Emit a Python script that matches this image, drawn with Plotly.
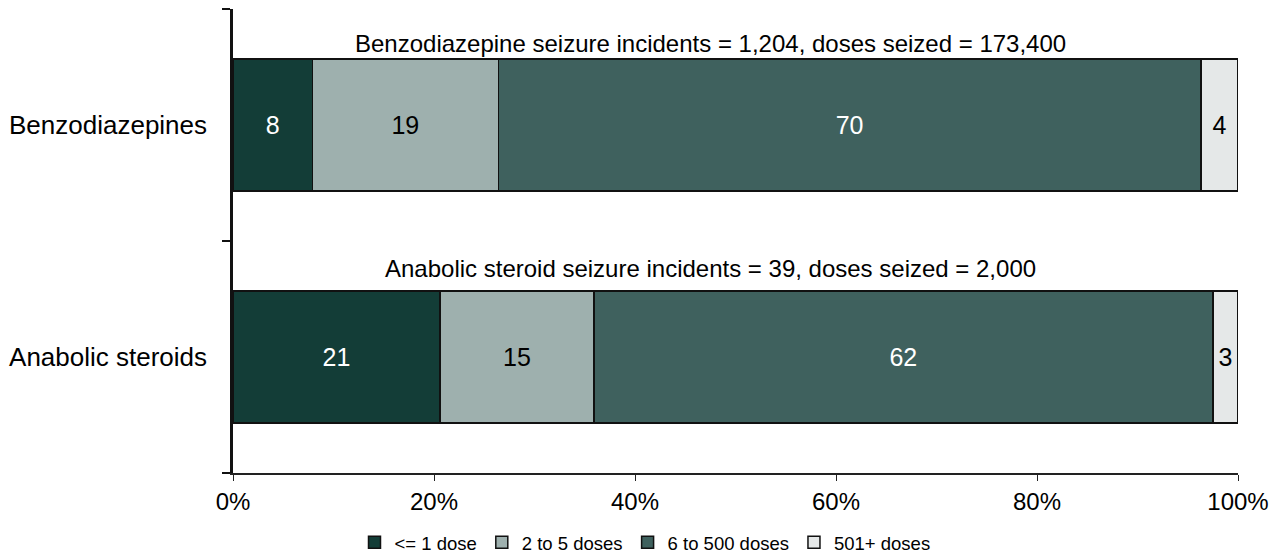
import plotly.graph_objects as go

# Share of seizure incidents by doses seized (%)
categories = ['Anabolic steroids', 'Benzodiazepines']
bands = ['<= 1 dose', '2 to 5 doses', '6 to 500 doses', '501+ doses']
shares = {
    '<= 1 dose':      [20.6, 7.9],
    '2 to 5 doses':   [15.3, 18.5],
    '6 to 500 doses': [61.6, 69.9],
    '501+ doses':     [2.5, 3.7],
}
# labels printed on the bars (rounded figures as published)
labels = {
    '<= 1 dose':      [21, 8],
    '2 to 5 doses':   [15, 19],
    '6 to 500 doses': [62, 70],
    '501+ doses':     [3, 4],
}
notes = [
    'Anabolic steroid seizure incidents = 39, doses seized = 2,000',
    'Benzodiazepine seizure incidents = 1,204, doses seized = 173,400',
]
x_ticks = [0, 20, 40, 60, 80, 100]

colors = ['#133d37', '#9eb0ae', '#3f615e', '#e5e8e8']
text_colors = ['white', 'black', 'white', 'black']
font = 'Liberation Sans, Arial, sans-serif'

fig = go.Figure()
for band, col, tcol in zip(bands, colors, text_colors):
    fig.add_trace(go.Bar(
        y=categories, x=shares[band], name=band, orientation='h',
        marker=dict(color=col, line=dict(color='#111111', width=1.5)),
        text=[str(v) for v in labels[band]],
        textposition='inside', insidetextanchor='middle',
        textfont=dict(color=tcol, size=25, family=font),
        constraintext='none',
    ))

# incident/dose totals above each bar
for i, note in enumerate(notes):
    fig.add_annotation(
        x=47.5, y=i + (0.38 if i == 0 else 0.35), xref='x', yref='y',
        text=note, showarrow=False,
        font=dict(size=24, color='black', family=font),
    )

# the page body adds an 8px margin, so the figure is shrunk to fit the window
fig.update_layout(
    barmode='stack',
    bargap=0.43,
    width=1274, height=548,
    margin=dict(l=225, r=44, t=1, b=83),
    plot_bgcolor='white', paper_bgcolor='white',
    font=dict(family=font, color='black', size=24),
    showlegend=True,
    legend=dict(
        orientation='h', x=0.5, xref='container', xanchor='center',
        y=0.024, yref='container', yanchor='middle',
        font=dict(size=18.5, family=font), traceorder='normal',
        itemwidth=30,
    ),
    uniformtext=dict(minsize=10, mode='show'),
)
fig.update_xaxes(
    range=[0, 100], tickvals=x_ticks,
    ticktext=[f'{v}%' for v in x_ticks],
    showgrid=False, zeroline=False,
    showline=True, linecolor='#222222', linewidth=1.5,
    ticks='outside', ticklen=6, tickcolor='#222222',
    tickfont=dict(size=24),
)
fig.update_yaxes(
    type='category', range=[-0.5, 1.5],
    tickson='boundaries', ticks='outside', ticklen=8, tickcolor='#111111',
    tickwidth=1.5,
    showline=True, linecolor='#111111', linewidth=2.5,
    showgrid=False, tickfont=dict(size=26), ticklabelstandoff=18,
)

fig.write_html('out.html')
